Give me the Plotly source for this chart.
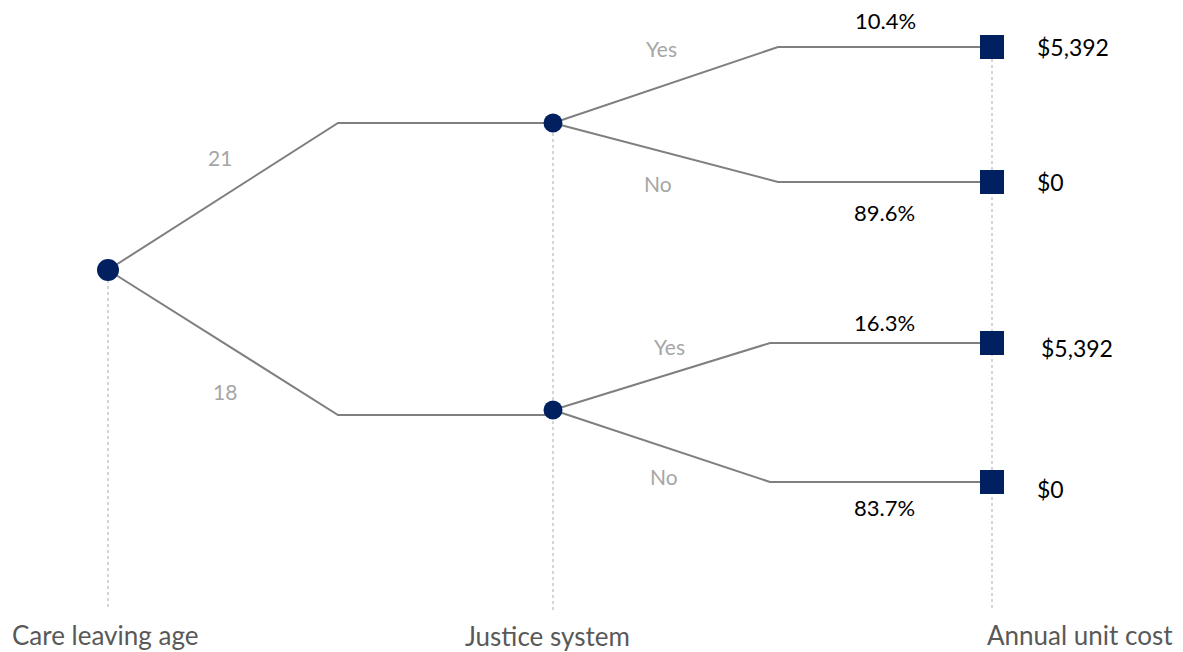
import plotly.graph_objects as go

# ---- data ----
stages = ["Care leaving age", "Justice system", "Annual unit cost"]
age_groups = ["21", "18"]
outcomes = ["Yes", "No"]
probabilities = [[10.4, 89.6], [16.3, 83.7]]
unit_costs = [[5392, 0], [5392, 0]]

# ---- layout geometry (pixels in a 1183x652 frame) ----
W, H = 1183, 652
X_ROOT, X_KNEE1, X_MID, X_END = 108, 338, 553, 992
X_KNEE2 = [778, 770]
ROOT_Y = 270
MID_Y = [123, 410]
MID_LINE_Y = [123, 415]
END_Y = [[47, 182], [343, 482]]
AXIS_BOTTOM = 610

NAVY = "#002060"
LINE = "#7F7F7F"
LIGHT = "#A6A6A6"
DOT = "#C8C8C8"
FONT = "Lato"

fig = go.Figure()

# dotted stage guides
for x, y0 in [(X_ROOT, ROOT_Y + 10), (X_MID, MID_Y[0] + 10), (X_END, END_Y[0][0])]:
    fig.add_trace(go.Scatter(x=[x, x], y=[y0, AXIS_BOTTOM], mode="lines",
                             line=dict(color=DOT, width=1.5, dash="dot"),
                             hoverinfo="skip", showlegend=False))

# branches root -> mid -> end
for i in range(len(age_groups)):
    fig.add_trace(go.Scatter(x=[X_ROOT, X_KNEE1, X_MID], y=[ROOT_Y, MID_LINE_Y[i], MID_LINE_Y[i]],
                             mode="lines", line=dict(color=LINE, width=2),
                             hoverinfo="skip", showlegend=False))
    for j in range(len(outcomes)):
        fig.add_trace(go.Scatter(x=[X_MID, X_KNEE2[i], X_END], y=[MID_Y[i], END_Y[i][j], END_Y[i][j]],
                                 mode="lines", line=dict(color=LINE, width=2),
                                 hoverinfo="skip", showlegend=False))

# nodes
fig.add_trace(go.Scatter(x=[X_ROOT], y=[ROOT_Y], mode="markers",
                         marker=dict(color=NAVY, size=22, symbol="circle", line=dict(width=0)),
                         showlegend=False))
fig.add_trace(go.Scatter(x=[X_MID] * 2, y=MID_Y, mode="markers",
                         marker=dict(color=NAVY, size=19, symbol="circle", line=dict(width=0)),
                         showlegend=False))
fig.add_trace(go.Scatter(x=[X_END] * 4, y=[y for row in END_Y for y in row], mode="markers",
                         marker=dict(color=NAVY, size=24, symbol="square", line=dict(width=0)),
                         showlegend=False))

ann = []
def txt(x, y, s, color, size, anchor="center"):
    ann.append(dict(x=x, y=y, text=s, showarrow=False, xanchor=anchor, yanchor="middle",
                    font=dict(family=FONT, size=size, color=color)))

# age group labels
txt(220, 157, age_groups[0], LIGHT, 21)
txt(225, 391, age_groups[1], LIGHT, 21)

# outcome labels
outcome_pos = [[(661, 48), (658, 183)], [(669, 346), (664, 476)]]
pct_pos = [[(885, 20), (884, 212)], [(884, 322), (884, 507)]]
cost_pos = [[(1035, 47), (1035, 182)], [(1039, 348), (1035, 489)]]
for i in range(2):
    for j in range(2):
        txt(*outcome_pos[i][j], outcomes[j], LIGHT, 21)
        txt(*pct_pos[i][j], f"{probabilities[i][j]:.1f}%", "#000000", 22)
        txt(*cost_pos[i][j], f"${unit_costs[i][j]:,}", "#000000", 23, anchor="left")

# stage labels
txt(105, 635, stages[0], "#595959", 26)
txt(547, 636, stages[1], "#595959", 26)
txt(985, 635, stages[2], "#595959", 26, anchor="left")

fig.update_layout(
    width=W, height=H, margin=dict(l=0, r=0, t=0, b=0),
    paper_bgcolor="white", plot_bgcolor="white",
    xaxis=dict(range=[0, W], visible=False, fixedrange=True),
    yaxis=dict(range=[H, 0], visible=False, fixedrange=True),
    annotations=ann,
)
fig.write_html("out.html", config={"displayModeBar": False},
               post_script="document.body.style.margin='0';document.body.style.overflow='hidden';")
